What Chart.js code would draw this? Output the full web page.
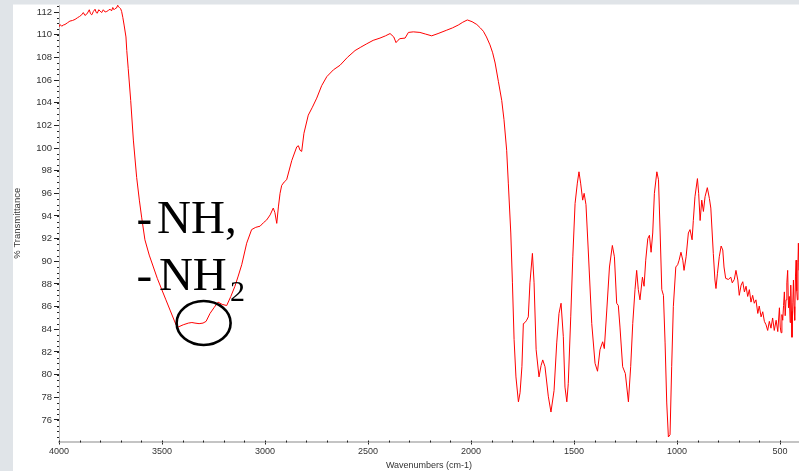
<!DOCTYPE html>
<html>
<head>
<meta charset="utf-8">
<script src="https://cdn.jsdelivr.net/npm/chart.js@4.4.1/dist/chart.umd.min.js"></script>
<style>
  html, body { margin: 0; padding: 0; background: #e0e4e8; }
  #wrap { width: 799px; height: 471px; }
</style>
</head>
<body>
<div id="wrap"><canvas id="irChart" width="799" height="471"></canvas></div>
<script>
// FTIR spectrum, wavenumber (cm-1) vs % transmittance
const wavenumbers = [
  3999, 3995, 3987, 3979, 3971, 3959, 3947, 3935, 3922, 3910, 3901, 3890, 3882, 3874, 3866, 3859,
  3853, 3847, 3841, 3833, 3825, 3819, 3814, 3807, 3801, 3793, 3785, 3776, 3768, 3760, 3752, 3745,
  3739, 3733, 3728, 3721, 3715, 3711, 3707, 3701, 3696, 3690, 3684, 3675, 3671, 3664, 3652, 3639,
  3623, 3610, 3599, 3583, 3562, 3542, 3523, 3501, 3481, 3461, 3432, 3422, 3397, 3372, 3355, 3340,
  3320, 3301, 3286, 3267, 3248, 3228, 3208, 3186, 3166, 3146, 3130, 3113, 3089, 3065, 3045, 3024,
  3008, 2992, 2975, 2960, 2952, 2943, 2935, 2927, 2919, 2907, 2895, 2870, 2846, 2838, 2830, 2822,
  2811, 2790, 2770, 2749, 2725, 2700, 2668, 2636, 2600, 2563, 2535, 2506, 2475, 2442, 2415, 2393,
  2375, 2364, 2355, 2345, 2320, 2304, 2280, 2248, 2220, 2191, 2160, 2118, 2090, 2062, 2040, 2018,
  1995, 1972, 1955, 1940, 1925, 1908, 1895, 1883, 1867, 1851, 1840, 1827, 1819, 1807, 1799, 1791,
  1782, 1770, 1762, 1753, 1746, 1738, 1730, 1722, 1714, 1702, 1694, 1684, 1670, 1660, 1652, 1641,
  1625, 1612, 1597, 1584, 1573, 1563, 1552, 1544, 1535, 1528, 1516, 1506, 1495, 1484, 1476, 1468,
  1458, 1451, 1442, 1431, 1414, 1398, 1386, 1374, 1361, 1353, 1341, 1328, 1314, 1304, 1293, 1285,
  1277, 1264, 1251, 1236, 1225, 1215, 1204, 1196, 1188, 1180, 1168, 1160, 1152, 1142, 1134, 1126,
  1118, 1110, 1098, 1090, 1082, 1074, 1066, 1058, 1050, 1042, 1034, 1026, 1018, 1006, 997, 990,
  981, 972, 966, 956, 945, 937, 927, 921, 913, 901, 895, 888, 880, 872, 864, 853,
  843, 836, 824, 816, 811, 804, 795, 786, 778, 772, 764, 751, 739, 732, 722, 714,
  705, 698, 689, 681, 673, 665, 657, 649, 641, 633, 625, 617, 608, 601, 592, 584,
  576, 568, 560, 552, 544, 536, 528, 519, 511,
  503, 499, 495, 491, 487, 483, 479, 475, 471, 467, 463, 459, 455, 451,
  448, 445, 442, 438, 435, 432, 429, 425, 422, 419, 416, 413, 411, 408
];
const transmittance = [
  110.7, 110.9, 110.75, 110.85, 110.9, 111.05, 111.2, 111.25, 111.35, 111.5, 111.6, 111.75, 111.95, 111.7, 111.8, 112.0,
  112.2, 111.85, 111.75, 112.05, 112.25, 111.95, 111.9, 112.2, 112.1, 111.95, 112.2, 112.0, 112.05, 112.15, 112.25, 112.1,
  112.4, 112.2, 112.3, 112.35, 112.6, 112.45, 112.4, 112.3, 112.05, 111.5, 110.85, 109.8, 108.6, 107.0, 104.2, 100.7,
  97.4, 95.4, 93.9, 91.9, 90.55, 89.5, 88.5, 87.5, 86.6, 85.7, 84.4, 84.2, 84.4, 84.55, 84.6, 84.55,
  84.5, 84.55, 84.7, 85.4, 85.9, 86.4, 86.2, 86.1, 86.9, 87.8, 88.7, 89.7, 91.6, 92.8, 93.0, 93.1,
  93.4, 93.65, 94.1, 94.7, 94.3, 93.35, 94.8, 96.0, 96.7, 97.0, 97.2, 98.9, 100.1, 100.2, 99.8, 99.7,
  101.3, 102.9, 103.6, 104.4, 105.5, 106.3, 106.9, 107.3, 108.0, 108.6, 108.9, 109.2, 109.5, 109.7, 109.9, 110.1,
  109.8, 109.3, 109.5, 109.65, 109.7, 110.2, 110.25, 110.2, 110.05, 109.9, 110.1, 110.4, 110.6, 110.85, 111.1, 111.3,
  111.15, 110.9, 110.6, 110.3, 109.8, 109.1, 108.4, 107.5, 105.85, 104.2, 102.5, 99.8, 96.9, 92.5, 88.1, 83.1,
  79.8, 77.6, 78.4, 80.7, 84.5, 84.6, 84.8, 85.1, 88.1, 90.7, 88.1, 82.2, 79.8, 80.8, 81.3, 80.7,
  78.1, 76.7, 78.6, 82.8, 85.4, 86.3, 83.35, 78.9, 77.6, 79.2, 85.1, 90.4, 95.1, 96.9, 97.9, 96.9,
  95.4, 96.0, 95.0, 91.0, 84.5, 81.0, 80.3, 82.2, 82.9, 82.3, 85.7, 89.5, 91.4, 90.4, 86.3, 86.1,
  84.2, 80.7, 80.1, 77.6, 80.7, 84.5, 87.5, 89.2, 87.5, 86.6, 88.6, 87.8, 90.1, 92.0, 92.3, 90.8,
  92.5, 96.0, 97.9, 97.2, 92.5, 87.5, 87.0, 82.8, 77.5, 74.5, 74.7, 80.7, 86.0, 89.5, 89.7, 90.1,
  90.8, 90.1, 89.2, 90.4, 92.5, 92.8, 91.9, 93.6, 95.7, 97.3, 96.0, 93.6, 95.4, 94.4, 95.7, 96.5,
  95.55, 94.7, 90.7, 88.35, 87.6, 88.9, 90.4, 91.35, 91.0, 89.5, 88.5, 88.4, 88.6, 88.1, 88.4, 89.2,
  88.35, 87.0, 87.9, 88.2, 87.3, 87.8, 86.9, 87.5, 86.4, 87.0, 86.3, 86.6, 85.4, 86.05, 85.1, 85.55,
  84.7, 84.4, 83.9, 84.7, 84.1, 85.0, 83.9, 84.8, 83.8,
  85.9, 84.2, 83.7, 85.3, 84.8, 86.1, 87.3, 85.2, 86.6, 88.1, 89.2, 85.9, 86.9, 84.6,
  87.9, 85.6, 83.3, 86.4, 88.35, 86.0, 84.8, 88.7, 90.1, 87.4, 86.6, 89.9, 91.6, 89.2
];

const xTicks = [4000, 3500, 3000, 2500, 2000, 1500, 1000, 500];
const yTicks = [76, 78, 80, 82, 84, 86, 88, 90, 92, 94, 96, 98, 100, 102, 104, 106, 108, 110, 112];
const xRange = [408, 4000];
const yRange = [74.1, 112.62];

// band label next to the broad N-H stretch, positions in data units
const bandLabel = {
  line1: { dash: '-', text: 'NH,', dashWn: 3624, textWn: 3524, t: 92.5 },
  line2: { dash: '-', text: 'NH', sub: '2', dashWn: 3624, textWn: 3515, subWn: 3170, t: 87.47, subT: 86.5 },
  circle: { wn: 3298, t: 84.56 }
};

const points = wavenumbers.map((w, i) => ({ x: w, y: transmittance[i] }));

const pageBackground = {
  id: 'pageBackground',
  beforeDraw(chart) {
    const ctx = chart.ctx;
    ctx.save();
    ctx.fillStyle = '#ffffff';
    ctx.fillRect(0, 0, chart.width, chart.height);
    ctx.fillStyle = '#e0e4e8';
    ctx.fillRect(0, 0, chart.width, 4.5);
    ctx.fillRect(0, 0, 13, chart.height);
    ctx.restore();
  }
};

// small ticks between the labelled ones
const minorTicks = {
  id: 'minorTicks',
  afterDraw(chart) {
    const { ctx, chartArea } = chart;
    const xs = chart.scales.x, ys = chart.scales.y;
    ctx.save();
    ctx.fillStyle = '#222';
    for (let v = 74.5; v <= 112.5; v += 0.5) {
      const py = Math.round(ys.getPixelForValue(v));
      ctx.fillRect(chartArea.left - 2, py, 2, 1);
    }
    for (let w = 500; w <= 4000; w += 100) {
      const px = Math.round(xs.getPixelForValue(w));
      ctx.fillRect(px, chartArea.bottom - 1, 1, 2);
    }
    ctx.restore();
  }
};

const bandNote = {
  id: 'bandNote',
  afterDatasetsDraw(chart) {
    const { ctx } = chart;
    const xs = chart.scales.x, ys = chart.scales.y;
    const l1 = bandLabel.line1, l2 = bandLabel.line2, c = bandLabel.circle;
    ctx.save();
    ctx.fillStyle = '#000';
    ctx.textAlign = 'left';
    ctx.textBaseline = 'alphabetic';
    ctx.font = '47px "Liberation Serif", "Times New Roman", serif';
    ctx.fillText(l1.dash, xs.getPixelForValue(l1.dashWn), ys.getPixelForValue(l1.t));
    ctx.fillText(l1.text, xs.getPixelForValue(l1.textWn), ys.getPixelForValue(l1.t));
    ctx.fillText(l2.dash, xs.getPixelForValue(l2.dashWn), ys.getPixelForValue(l2.t));
    ctx.fillText(l2.text, xs.getPixelForValue(l2.textWn), ys.getPixelForValue(l2.t));
    ctx.font = '30px "Liberation Serif", "Times New Roman", serif';
    ctx.fillText(l2.sub, xs.getPixelForValue(l2.subWn), ys.getPixelForValue(l2.subT));
    ctx.strokeStyle = '#000';
    ctx.lineWidth = 2.6;
    ctx.beginPath();
    ctx.ellipse(xs.getPixelForValue(c.wn), ys.getPixelForValue(c.t), 27, 22, 0, 0, Math.PI * 2);
    ctx.stroke();
    ctx.restore();
  }
};

new Chart(document.getElementById('irChart'), {
  type: 'line',
  data: {
    datasets: [{
      label: 'Spectrum',
      data: points,
      borderColor: 'rgb(255, 0, 0)',
      borderWidth: 1,
      pointRadius: 0,
      tension: 0,
      fill: false
    }]
  },
  options: {
    responsive: false,
    devicePixelRatio: 1,
    animation: false,
    layout: { padding: { top: 5, left: 0, right: 0, bottom: 0 } },
    plugins: {
      legend: { display: false },
      tooltip: { enabled: false }
    },
    scales: {
      x: {
        type: 'linear',
        reverse: true,
        min: xRange[0],
        max: xRange[1],
        afterBuildTicks: s => { s.ticks = xTicks.map(v => ({ value: v })); },
        afterFit: s => { s.height = 29.5; s.paddingLeft = 0; s.paddingRight = 0; },
        grid: { drawOnChartArea: false, drawTicks: true, tickLength: 3, color: '#222' },
        border: { display: true, color: '#c4c4c4', width: 2 },
        ticks: {
          padding: 2,
          maxRotation: 0,
          color: '#333',
          callback: v => String(v),
          font: { family: '"Liberation Sans", Arial, sans-serif', size: 9 }
        },
        title: {
          display: true,
          text: 'Wavenumbers (cm-1)',
          color: '#333',
          padding: { top: 0, bottom: 0 },
          font: { family: '"Liberation Sans", Arial, sans-serif', size: 9 }
        }
      },
      y: {
        type: 'linear',
        min: yRange[0],
        max: yRange[1],
        afterBuildTicks: s => { s.ticks = yTicks.map(v => ({ value: v })); },
        afterFit: s => { s.width = 59; s.paddingTop = 0; s.paddingBottom = 0; },
        grid: { drawOnChartArea: false, drawTicks: true, tickLength: 5, color: '#222' },
        border: { display: true, color: '#b8b8b8', width: 1 },
        ticks: {
          padding: 2,
          color: '#333',
          callback: v => String(v),
          font: { family: '"Liberation Sans", Arial, sans-serif', size: 9.5 }
        },
        title: {
          display: true,
          text: '% Transmittance',
          color: '#333',
          padding: { top: 12, bottom: 0 },
          font: { family: '"Liberation Sans", Arial, sans-serif', size: 9.5 }
        }
      }
    }
  },
  plugins: [pageBackground, minorTicks, bandNote]
});
</script>
</body>
</html>
